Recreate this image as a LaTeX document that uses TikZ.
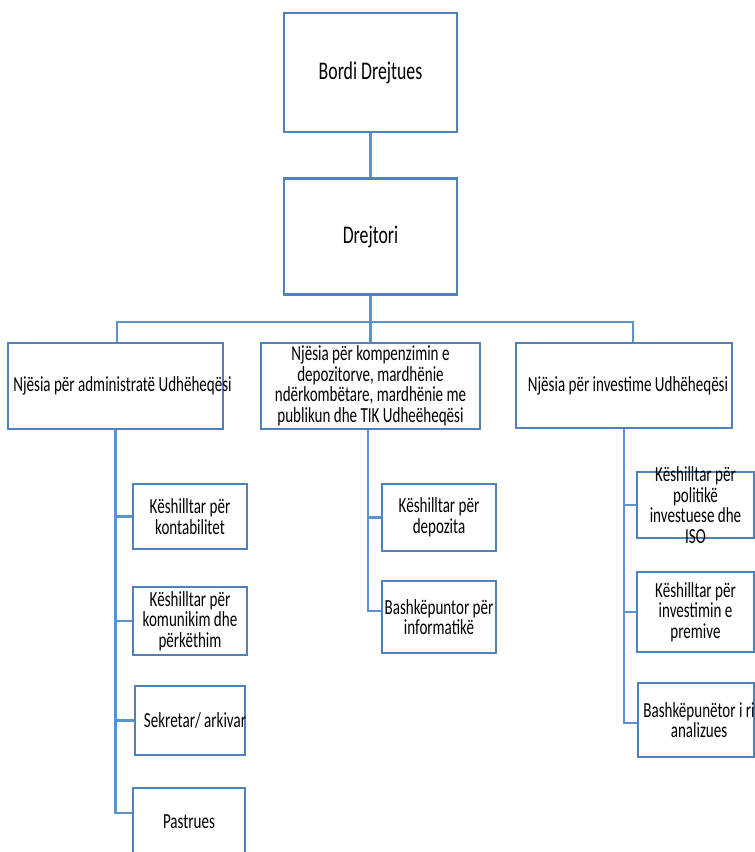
\documentclass[tikz,border=0pt]{standalone}
\usepackage{fontspec}
\setmainfont{Carlito}[FakeStretch=0.7]
\usepackage{xcolor}
\usetikzlibrary{positioning}
\definecolor{boxblue}{RGB}{79,129,189}
\definecolor{linkblue}{RGB}{91,146,208}

\begin{document}
\begin{tikzpicture}[
    x=1pt, y=-1pt,
    box/.style={draw=boxblue,line width=2.8pt,fill=white,inner sep=0pt},
    txt/.style={align=center,inner sep=0pt,font=\fontsize{21.5}{20.5}\selectfont},
    bigtxt/.style={align=center,inner sep=0pt,font=\fontsize{25.4}{26}\selectfont},
    link/.style={draw=linkblue,line width=2.2pt}
]
\useasboundingbox (0,0) rectangle (755,852);
\clip (0,0) rectangle (755,852);

% top of the chart
\node[box,minimum width=173pt,minimum height=119pt,label={[bigtxt]center:Bordi Drejtues}] (bordi) at (370.5,72.5) {};
\node[box,minimum width=173pt,minimum height=116pt,below=44pt of bordi,label={[bigtxt]center:Drejtori}] (drejtori) {};

% units
\node[box,minimum width=215pt,minimum height=86pt,label={[txt,xshift=7pt]center:Njësia për administratë Udhëheqësi}] (admin) at (115.5,386) {};
\node[box,minimum width=219pt,minimum height=86pt,label={[txt]center:Njësia për kompenzimin e\\depozitorve, mardhënie\\ndërkombëtare, mardhënie me\\publikun dhe TIK Udheëheqësi}] (komp) at (370.5,386) {};
\node[box,minimum width=216pt,minimum height=85pt,label={[txt,xshift=4pt]center:Njësia për investime Udhëheqësi}] (invest) at (624,385.5) {};

% staff under administration
\node[box,minimum width=114pt,minimum height=65pt,label={[txt]center:Këshilltar për\\kontabilitet}] (kontab) at (190,516.5) {};
\node[box,minimum width=114pt,minimum height=68pt,label={[txt]center:Këshilltar për\\komunikim dhe\\përkëthim}] (komun) at (190,621) {};
\node[box,minimum width=110pt,minimum height=69pt,label={[txt,xshift=5pt]center:Sekretar/ arkivar}] (sekret) at (190,720.5) {};
\node[box,minimum width=112pt,minimum height=68pt,label={[txt]center:Pastrues}] (pastr) at (189,822) {};

% staff under compensation
\node[box,minimum width=114pt,minimum height=67pt,label={[txt]center:Këshilltar për\\depozita}] (depoz) at (439,517.5) {};
\node[box,minimum width=114pt,minimum height=72pt,label={[txt]center:Bashkëpuntor për\\informatikë}] (inform) at (439,617) {};

% staff under investments
\node[box,minimum width=117pt,minimum height=66pt,label={[txt]center:Këshilltar për\\politikë\\investuese dhe\\ISO}] (polit) at (695.5,505) {};
\node[box,minimum width=117pt,minimum height=80pt,label={[txt]center:Këshilltar për\\investimin e\\premive}] (premi) at (695.5,612) {};
\node[box,minimum width=116pt,minimum height=74pt,label={[txt,xshift=3pt]center:Bashkëpunëtor i ri\\analizues}] (analiz) at (696,720) {};

% connectors
\coordinate (bus) at (370.5,322);
\draw[link] (bordi) -- (drejtori);
\draw[link] (drejtori) -- (komp);
\draw[link] ([xshift=1.5pt]admin.north) |- (bus) -| ([xshift=9pt]invest.north);
\draw[link] (admin.south) |- (kontab.west);
\draw[link] (admin.south) |- (komun.west);
\draw[link] (admin.south) |- (sekret.west);
\draw[link] (admin.south) |- ([yshift=9pt]pastr.west);
\draw[link] ([xshift=-2.5pt]komp.south) |- (depoz.west);
\draw[link] ([xshift=-2.5pt]komp.south) |- ([yshift=6pt]inform.west);
\draw[link] (invest.south) |- (polit.west);
\draw[link] (invest.south) |- (premi.west);
\draw[link] (invest.south) |- ([yshift=-3pt]analiz.west);
\end{tikzpicture}
\end{document}
